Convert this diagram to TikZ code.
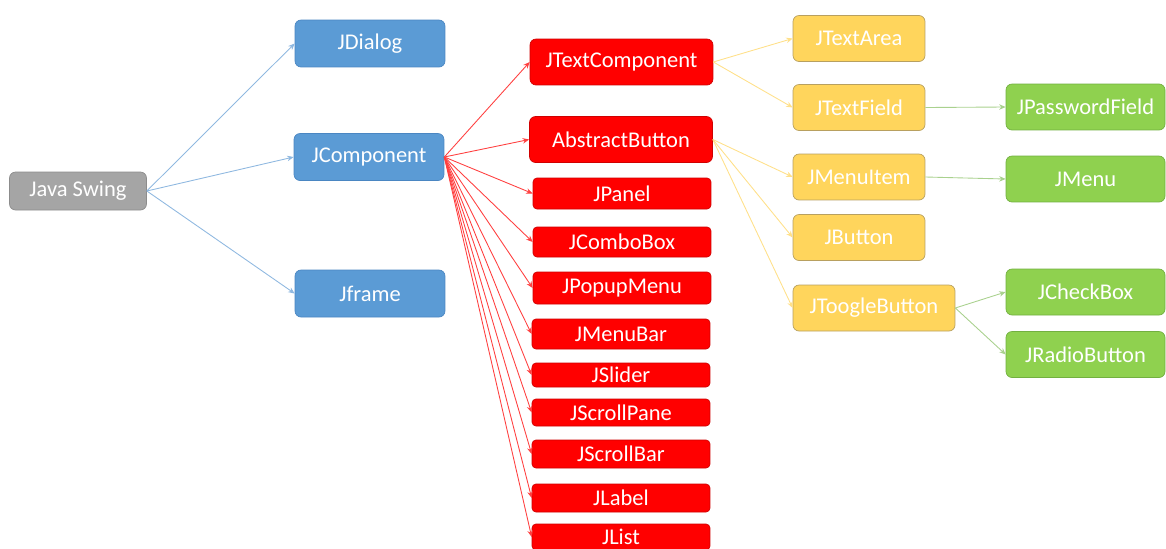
\documentclass[tikz,border=0pt]{standalone}
\usepackage{fontspec}
\setmainfont{Carlito}
\usetikzlibrary{arrows.meta}
\definecolor{rootfill}{HTML}{A5A5A5}
\definecolor{rootedge}{HTML}{8C8C8C}
\definecolor{topfill}{HTML}{5B9BD5}
\definecolor{topedge}{HTML}{4A86C2}
\definecolor{compfill}{HTML}{FF0000}
\definecolor{compedge}{HTML}{D00000}
\definecolor{subfill}{HTML}{FFD55C}
\definecolor{subedge}{HTML}{B8A060}
\definecolor{leaffill}{HTML}{8FD14F}
\definecolor{leafedge}{HTML}{72B040}
\definecolor{toparrow}{HTML}{8FB8E0}
\definecolor{comparrow}{HTML}{FF4040}
\definecolor{subarrow}{HTML}{FFE08A}
\definecolor{leafarrow}{HTML}{A9D18E}

\begin{document}
\begin{tikzpicture}[x=0.02cm, y=-0.02cm,
  box/.style={rectangle, inner sep=0pt, text=white,
              font=\fontsize{12.8pt}{15pt}\selectfont},
  root/.style={box, rounded corners=0.12cm, draw=rootedge, fill=rootfill,
               minimum width=2.74cm, minimum height=0.76cm},
  top/.style={box, rounded corners=0.12cm, draw=topedge, fill=topfill,
              minimum width=3.0cm, minimum height=0.94cm},
  compbig/.style={box, rounded corners=0.12cm, draw=compedge, fill=compfill,
                  minimum width=3.66cm, minimum height=0.92cm},
  comp/.style={box, rounded corners=0.08cm, draw=compedge, fill=compfill,
               minimum width=3.56cm},
  sub/.style={box, rounded corners=0.12cm, draw=subedge, fill=subfill,
              minimum width=2.64cm, minimum height=0.92cm},
  leaf/.style={box, rounded corners=0.12cm, draw=leafedge, fill=leaffill,
               minimum width=3.18cm, minimum height=0.92cm},
  link/.style={line width=0.5pt, -{Stealth[length=1.3mm, width=1.1mm]}},
  ta/.style={link, draw=toparrow},
  ca/.style={link, draw=comparrow},
  sa/.style={link, draw=subarrow},
  la/.style={link, draw=leafarrow},
]
\useasboundingbox (0,0) rectangle (1166,548);
% root and the three top level containers
\node[root] (swing)  at (78, 191)    {Java Swing};
\node[top]  (dialog) at (370, 43.5)  {JDialog};
\node[top]  (jcomp)  at (369, 157)   {JComponent};
\node[top]  (frame)  at (370, 293.5) {Jframe};
% JComponent subclasses
\node[compbig] (textcomp) at (621.5, 62)  {JTextComponent};
\node[compbig] (abstract) at (621, 139.5) {AbstractButton};
\node[comp, minimum height=0.62cm] (panel)      at (622, 193.5) {JPanel};
\node[comp, minimum height=0.60cm] (combo)      at (622, 242)   {JComboBox};
\node[comp, minimum height=0.64cm] (popup)      at (622, 288)   {JPopupMenu};
\node[comp, minimum height=0.60cm] (menubar)    at (621, 334)   {JMenuBar};
\node[comp, minimum height=0.48cm] (slider)     at (621, 375)   {JSlider};
\node[comp, minimum height=0.54cm] (scrollpane) at (621, 412.5) {JScrollPane};
\node[comp, minimum height=0.56cm] (scrollbar)  at (621, 454)   {JScrollBar};
\node[comp, minimum height=0.56cm] (label)      at (621, 498)   {JLabel};
\node[comp, minimum height=0.52cm] (list)       at (621, 537)   {JList};
% text and button subclasses
\node[sub] (textarea)  at (859, 38.5)  {JTextArea};
\node[sub] (textfield) at (859, 107.5) {JTextField};
\node[sub] (menuitem)  at (859, 177)   {JMenuItem};
\node[sub] (button)    at (859, 237.5) {JButton};
\node[sub, minimum width=3.24cm] (toggle) at (874, 308) {JToogleButton};
% leaves
\node[leaf] (password) at (1085.5, 107)   {JPasswordField};
\node[leaf] (menu)     at (1085.5, 179)   {JMenu};
\node[leaf] (checkbox) at (1085.5, 292)   {JCheckBox};
\node[leaf] (radio)    at (1085.5, 354.5) {JRadioButton};

\draw[ta] (swing.east) -- (dialog.west);
\draw[ta] (swing.east) -- (jcomp.west);
\draw[ta] (swing.east) -- (frame.west);
% fan out of JComponent
\draw[ca] (jcomp.east) -- (textcomp.west);
\draw[ca] (jcomp.east) -- (abstract.west);
\draw[ca] (jcomp.east) -- (panel.west);
\draw[ca] (jcomp.east) -- (combo.west);
\draw[ca] (jcomp.east) -- (popup.west);
\draw[ca] (jcomp.east) -- (menubar.west);
\draw[ca] (jcomp.east) -- (slider.west);
\draw[ca] (jcomp.east) -- (scrollpane.west);
\draw[ca] (jcomp.east) -- (scrollbar.west);
\draw[ca] (jcomp.east) -- (label.west);
\draw[ca] (jcomp.east) -- (list.west);
\draw[sa] (textcomp.east) -- (textarea.west);
\draw[sa] (textcomp.east) -- (textfield.west);
\draw[sa] (abstract.east) -- (menuitem.west);
\draw[sa] (abstract.east) -- (button.west);
\draw[sa] (abstract.east) -- (toggle.west);
\draw[la] (textfield.east) -- (password.west);
\draw[la] (menuitem.east) -- (menu.west);
\draw[la] (toggle.east) -- (checkbox.west);
\draw[la] (toggle.east) -- (radio.west);
\end{tikzpicture}
\end{document}
